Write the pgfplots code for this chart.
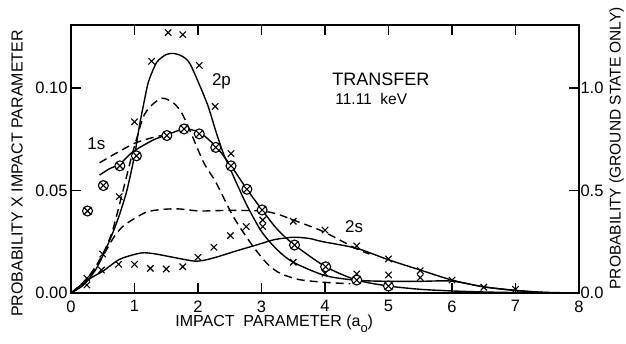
\documentclass[border=0pt]{standalone}
\usepackage{fontspec}
\setmainfont{Liberation Sans}
\usepackage{pgfplots}
\pgfplotsset{compat=1.18}
\usetikzlibrary{plotmarks}

\begin{document}
\begin{tikzpicture}
\pgfplotsset{
  base/.style={
    width=508pt, height=268pt, scale only axis,
    xmin=0, xmax=8,
    clip=false,
    axis line style={line width=2.4pt},
    tick align=inside,
    major tick length=10pt,
    tick style={line width=1.1pt, black},
    tick label style={font=\fontsize{16.5}{18}\selectfont},
  },
  curve/.style={black, line width=1.4pt, smooth, tension=0.45, no marks},
  dcurve/.style={curve, dash pattern=on 8pt off 5pt},
}
\begin{axis}[base,
  ymin=0, ymax=0.1307,
  xtick={0,1,2,3,4,5,6,7,8},
  xticklabels={0,1,2,3,4,5,6,7,8},
  xtick pos=both, xticklabel pos=bottom,
  ytick={0,0.05,0.10}, yticklabels={0.00,0.05,0.10},
  ytick pos=left,
  xticklabel style={yshift=-4pt},
  xlabel={IMPACT\ \ PARAMETER (a\raisebox{-6pt}{\fontsize{13}{13}\selectfont o})},
  xlabel style={font=\fontsize{16}{18}\selectfont, at={(axis description cs:0.4,-0.115)}, anchor=center},
  ylabel={PROBABILITY X IMPACT PARAMETER},
  ylabel style={font=\fontsize{16}{18}\selectfont, at={(axis description cs:-0.106,0.446)}, anchor=center},
]
% 2p solid (large peak)
\addplot[curve] coordinates {
(0,0) (0.2,0.004) (0.4,0.012) (0.6,0.025) (0.75,0.037) (0.88,0.050) (1.0,0.067)
(1.08,0.082) (1.15,0.093) (1.22,0.103) (1.35,0.1125) (1.5,0.1163) (1.62,0.1168)
(1.75,0.1155) (1.87,0.112) (2.03,0.101) (2.16,0.091) (2.29,0.078) (2.4,0.068)
(2.5,0.061) (2.75,0.044) (3.0,0.030) (3.25,0.021) (3.5,0.0150) (4.0,0.0085)
(4.5,0.0062) (5.0,0.0057) (5.5,0.0057) (6.0,0.0058) (6.5,0.0030) (7.0,0.0012)
(7.5,0.0003) (8.0,0)
};
% dashed large peak
\addplot[dcurve] coordinates {
(0,0) (0.25,0.006) (0.5,0.019) (0.65,0.030) (0.82,0.050) (0.95,0.066) (1.05,0.077)
(1.14,0.086) (1.25,0.091) (1.43,0.095) (1.6,0.093) (1.72,0.089) (1.82,0.083)
(1.98,0.0714) (2.1,0.063) (2.29,0.0535) (2.56,0.037) (2.87,0.0226) (3.1,0.014)
(3.3,0.0095) (3.6,0.0065) (4.0,0.0052) (4.4,0.0045)
};
% 1s solid through circles
\addplot[curve] coordinates {
(0.45,0.0575) (0.6,0.0605) (0.77,0.063) (0.98,0.069) (1.3,0.0747) (1.5,0.077)
(1.72,0.0796) (1.8,0.0802) (2.03,0.0782) (2.28,0.0715) (2.52,0.062) (2.77,0.0506)
(3.01,0.0405) (3.25,0.031) (3.52,0.0234) (4.01,0.0128) (4.5,0.0063) (5.0,0.0034)
(5.5,0.0018) (6.0,0.0010) (6.5,0.0005) (7.0,0.0002)
};
% 1s dashed short
\addplot[dcurve] coordinates {
(0.45,0.0635) (0.7,0.068) (1.0,0.073) (1.25,0.0755) (1.45,0.077)
};
% 2s dashed
\addplot[dcurve] coordinates {
(0,0) (0.25,0.007) (0.5,0.018) (0.67,0.027) (0.8,0.032) (0.93,0.035) (1.19,0.0395)
(1.45,0.0408) (1.7,0.0410) (2.03,0.0400) (2.5,0.0403) (3.0,0.0400) (3.25,0.0385)
(3.5,0.0356) (3.97,0.0300) (4.5,0.0215) (4.7,0.019)
};
% 2s solid
\addplot[curve] coordinates {
(0,0) (0.19,0.0047) (0.35,0.008) (0.51,0.0108) (0.77,0.0165) (1.1,0.0195)
(1.3,0.0192) (1.56,0.0177) (1.93,0.0156) (2.1,0.0160) (2.29,0.0175) (2.6,0.0205)
(2.92,0.0234) (3.2,0.0260) (3.5,0.0272) (3.75,0.0266) (3.97,0.0250) (4.5,0.0218)
(5.0,0.0162) (5.5,0.0112) (6.0,0.0063) (6.5,0.0030) (7.0,0.0013) (7.3,0.0005) (7.6,0)
};
% crosses
\addplot[only marks, mark=x, mark size=4.5pt, mark options={line width=1.1pt, black}] coordinates {
(0.25,0.0072) (0.5,0.019) (0.76,0.047) (1.0,0.0835) (1.27,0.113) (1.53,0.127)
(1.76,0.126) (2.02,0.111) (2.27,0.091) (2.52,0.068) (3.02,0.0356) (3.5,0.015)
(4.0,0.0096) (4.5,0.0093) (5.0,0.0088) (5.5,0.0075)
(0.25,0.0039) (0.48,0.0112) (0.75,0.014) (1.0,0.014) (1.25,0.012) (1.5,0.0117)
(1.76,0.0128) (2.0,0.0174) (2.25,0.0223) (2.51,0.028) (2.76,0.0324) (3.02,0.0324)
(3.5,0.035) (4.0,0.0307) (4.5,0.023) (5.0,0.0166) (5.5,0.0109) (6.0,0.0063)
(6.5,0.0028) (7.0,0.0018)
};
% circled crosses
\addplot[only marks, mark=otimes*, mark size=5pt, mark options={line width=1.1pt, draw=black, fill=white}] coordinates {
(0.26,0.040) (0.51,0.0524) (0.77,0.062) (1.03,0.0669) (1.51,0.0768) (1.78,0.080)
(2.02,0.0776) (2.28,0.071) (2.52,0.062) (2.77,0.0506) (3.01,0.0405) (3.52,0.0234)
(4.01,0.0128) (4.5,0.0063) (5.0,0.0034)
};
\node[font=\fontsize{17}{19}\selectfont] at (axis cs:0.4,0.073) {1s};
\node[font=\fontsize{17}{19}\selectfont] at (axis cs:2.37,0.103) {2p};
\node[font=\fontsize{17}{19}\selectfont] at (axis cs:4.46,0.0324) {2s};
\node[font=\fontsize{18}{20}\selectfont] at (axis cs:4.88,0.1044) {TRANSFER};
\node[font=\fontsize{15.5}{17}\selectfont, anchor=west, inner sep=0pt] at (axis cs:4.16,0.0947) {11.11\ \ keV};
\end{axis}
\begin{axis}[base,
  ymin=0, ymax=1.307,
  axis x line=none, axis y line*=right,
  ytick={0,0.5,1.0}, yticklabels={0.0,0.5,1.0},
  tick align=inside,
  yticklabel style={xshift=-2pt},
  ylabel={PROBABILITY (GROUND STATE ONLY)},
  ylabel style={font=\fontsize{15.5}{17}\selectfont, at={(axis description cs:1.074,0.54)}, anchor=center, rotate=0},
]
\end{axis}
\pgfresetboundingbox
\useasboundingbox (-71pt,-50pt) rectangle (555pt,293pt);
\end{tikzpicture}
\end{document}
